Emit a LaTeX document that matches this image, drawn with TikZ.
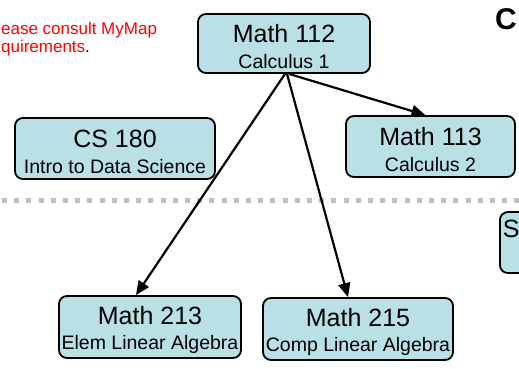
\documentclass[tikz,border=0pt]{standalone}
\usepackage{fontspec}
\setmainfont{Liberation Sans}
\usepackage{tikz}
\usetikzlibrary{arrows.meta}
\definecolor{coursefill}{RGB}{185,224,228}
\newcommand{\crstitle}{\fontsize{25}{26}\selectfont\rule{0pt}{24pt}}
\newcommand{\crssub}{\fontsize{19.5}{25.5}\selectfont}
\tikzset{course/.style={draw, line width=1.8pt, rounded corners=8pt, fill=coursefill, align=center, inner sep=0pt, font=\crssub}}

\begin{document}
\begin{tikzpicture}[x=1pt, y=-1pt, >={Triangle[length=14pt, width=12pt]}, line width=2.2pt]
        \useasboundingbox (0,0) rectangle (519,368);
        \clip (0,0) rectangle (519,368);

        % Notes
        \node[text=red, anchor=north west, align=left, inner sep=0pt, font=\fontsize{17}{18}\selectfont] (note) at (0,21) {ease consult MyMap\\quirements\textcolor{black}{.}};
        \node[anchor=base west, inner sep=0pt, font=\bfseries\fontsize{30}{32}\selectfont] (head) at (494,29) {C};

        % Divider
        \draw[gray!50, line width=5pt, dash pattern=on 5pt off 7.2pt] (2,200.5) -- (519,200.5);

        % Nodes
        \node[course, minimum width=172pt, minimum height=59pt] (m112) at (284,43.5) {\crstitle Math 112\\\crssub Calculus 1};
        \node[course, minimum width=200pt, minimum height=61pt] (cs180) at (115,148.5) {\crstitle CS 180\\\crssub Intro to Data Science};
        \node[course, minimum width=169pt, minimum height=61pt] (m113) at (430.5,146.5) {\crstitle Math 113\\\crssub Calculus 2};
        \node[course, minimum width=182pt, minimum height=62pt] (m213) at (150,327) {\crstitle Math 213\\\crssub Elem Linear Algebra};
        \node[course, minimum width=190pt, minimum height=62pt] (m215) at (358,329) {\crstitle Math 215\\\crssub Comp Linear Algebra};
        \node[course, anchor=west, minimum height=61pt, text width=150pt, align=left, inner xsep=3pt] (st) at (499,242.5) {\crstitle St\\\crssub\strut};

        % Directed edges
        \draw[->] ([xshift=1pt]m112.south) -- ([xshift=-14pt]m213.north);
        \draw[->] ([xshift=3pt]m112.south) -- ([xshift=-10pt]m215.north);
        \draw[->] ([xshift=5pt]m112.south) -- ([xshift=-5pt]m113.north);
\end{tikzpicture}
\end{document}
